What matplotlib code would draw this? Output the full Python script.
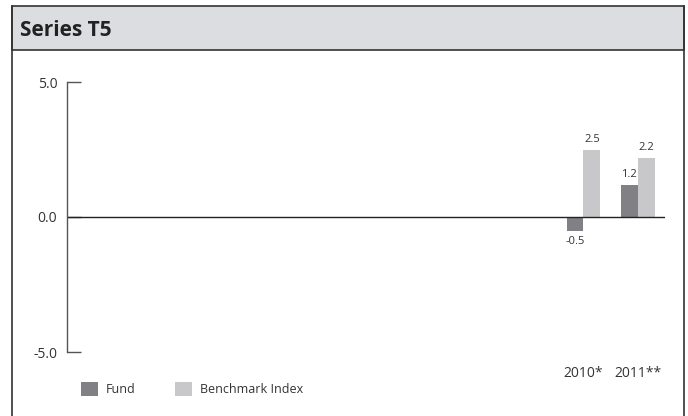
import matplotlib.pyplot as plt
from matplotlib.patches import Rectangle
from matplotlib.lines import Line2D
import numpy as np

title = "Series T5"
categories = ["2010*", "2011**"]
fund = [-0.5, 1.2]
benchmark = [2.5, 2.2]
series_names = ["Fund", "Benchmark Index"]
y_ticks = [-5.0, 0.0, 5.0]

W, H = 688, 416
FUND_COLOR = "#808085"
BENCH_COLOR = "#c8c8ca"
TEXT_COLOR = "#333333"
plt.rcParams["font.family"] = ["Open Sans", "DejaVu Sans"]


def fx(px):
	return px / W


def fy(py):
	return 1 - py / H


fig = plt.figure(figsize=(W / 100, H / 100), dpi=100)

# frame and header band
fig.patches.append(Rectangle((fx(12), fy(50)), fx(684) - fx(12), fy(6) - fy(50),
	transform=fig.transFigure, facecolor="#dcdde0", edgecolor="#333333", linewidth=1.2))
for x in (12, 684):
	fig.add_artist(Line2D([fx(x), fx(x)], [fy(6), 0], transform=fig.transFigure, color="#333333", linewidth=1.2))
fig.text(fx(20), fy(30), title, fontsize=15, fontweight="bold", color="#222222", va="center", ha="left")

ax = fig.add_axes([fx(67), fy(352), fx(665) - fx(67), fy(82) - fy(352)])

x = np.arange(len(categories))
bar_w = 0.31
b1 = ax.bar(x - bar_w / 2, fund, bar_w, color=FUND_COLOR, label=series_names[0])
b2 = ax.bar(x + bar_w / 2, benchmark, bar_w, color=BENCH_COLOR, label=series_names[1])

for bars in (b1, b2):
	for rect in bars:
		v = rect.get_height()
		ax.annotate(f"{v:.1f}", (rect.get_x() + rect.get_width() / 2, v),
			xytext=(0, 3 if v >= 0 else -4), textcoords="offset points",
			ha="center", va="bottom" if v >= 0 else "top", fontsize=8, color=TEXT_COLOR)

ax.axhline(0, color="#222222", linewidth=1.0)
ax.set_xlim(-9.5, len(categories) - 0.5)
ax.set_ylim(-5, 5)

for side in ("top", "right", "bottom"):
	ax.spines[side].set_visible(False)
ax.spines["left"].set_color("#555555")
ax.spines["left"].set_linewidth(1.0)

ax.set_yticks(y_ticks, [f"{t:.1f}" for t in y_ticks])
ax.tick_params(axis="y", direction="in", length=10, width=1.0, color="#555555", pad=7, labelsize=10, labelcolor=TEXT_COLOR)
ax.set_xticks(x, categories)
ax.tick_params(axis="x", length=0, pad=10, labelsize=10, labelcolor=TEXT_COLOR)

ax.legend(loc="upper left", bbox_to_anchor=(fx(81), fy(382)), bbox_transform=fig.transFigure,
	ncol=2, frameon=False, fontsize=9, handlelength=1.35, handleheight=1.35,
	handletextpad=0.6, columnspacing=3.2, borderaxespad=0, borderpad=0, labelcolor=TEXT_COLOR)

fig.savefig("out.png", dpi=100)
